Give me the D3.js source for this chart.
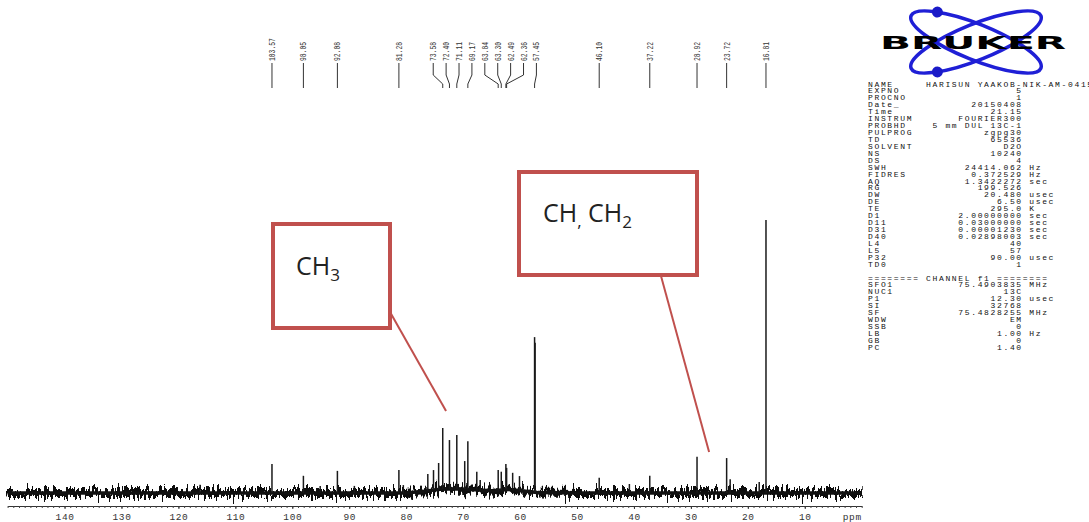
<!DOCTYPE html>
<html>
<head>
<meta charset="utf-8">
<script src="https://cdn.jsdelivr.net/npm/d3@7"></script>
<style>
  body { margin: 0; background: #fff; }
  text { font-family: "Liberation Mono", "DejaVu Sans Mono", monospace; }
</style>
</head>
<body>
<div id="nmr"></div>
<script>
let width  = 1089,
    height = 522;

// 13C spectrum, ppm axis runs right to left
let peakPpm    = [116.2, 103.57, 98.05, 95.1, 92.08, 89.1, 81.28, 80.5, 76.2, 75.2, 74.3,
                  73.58, 72.40, 71.11, 69.72, 69.17, 67.6, 67.0, 63.84, 63.30, 62.49,
                  62.36, 61.3, 60.1, 57.45, 57.36, 46.10, 40.8, 37.22, 28.92, 23.72,
                  23.1, 18.0, 16.81];
let peakHeight = [3.0, 10.6, 6.3, 2.6, 8.1, 2.6, 8.4, 2.9, 7.0, 8.4, 11.0,
                  23.8, 19.4, 21.2, 11.7, 19.0, 7.8, 4.8, 8.4, 7.8, 10.6,
                  9.2, 7.4, 6.2, 57.1, 55.0, 5.6, 3.3, 6.3, 13.3, 12.8,
                  5.0, 4.0, 100];

let labelPpm = [103.57, 98.05, 92.08, 81.28, 73.58, 72.40, 71.11, 69.17, 63.84,
                63.30, 62.49, 62.36, 57.45, 46.10, 37.22, 28.92, 23.72, 16.81];

let baselinePpm   = [150, 100, 80, 77, 74, 71, 68, 65, 62, 59, 57, 50, 0];
let baselineLevel = [0,   0,   0,  0.6, 1.4, 1.6, 1.2, 0.8, 1.3, 0.6, 0.2, 0, 0];

let ppmTicks = d3.range(10, 150, 10);

let paramNames  = ["NAME", "EXPNO", "PROCNO", "Date_", "Time", "INSTRUM", "PROBHD", "PULPROG",
                   "TD", "SOLVENT", "NS", "DS", "SWH", "FIDRES", "AQ", "RG", "DW", "DE", "TE",
                   "D1", "D11", "D31", "D40", "L4", "L5", "P32", "TD0"];
let paramValues = ["HARISUN YAAKOB-NIK-AM-0415", "5", "1", "20150408", "21.15", "FOURIER300",
                   "5 mm DUL 13C-1", "zgpg30", "65536", "D2O", "10240", "4", "24414.062",
                   "0.372529", "1.3422272", "199.526", "20.480", "6.50", "295.0",
                   "2.00000000", "0.03000000", "0.00001230", "0.02898003", "40", "57",
                   "90.00", "1"];
let paramUnits  = ["", "", "", "", "", "", "", "", "", "", "", "", "Hz", "Hz", "sec", "",
                   "usec", "usec", "K", "sec", "sec", "sec", "sec", "", "", "usec", ""];

let channelNames  = ["SFO1", "NUC1", "P1", "SI", "SF", "WDW", "SSB", "LB", "GB", "PC"];
let channelValues = ["75.4903835", "13C", "12.30", "32768", "75.4828255", "EM", "0", "1.00", "0", "1.40"];
let channelUnits  = ["MHz", "", "usec", "", "MHz", "", "", "Hz", "", ""];

let svg =
  d3.select("#nmr")
    .append("svg")
      .attr("width", width)
      .attr("height", height)
      .style("display", "block");

let x =
  d3.scaleLinear()
    .domain([150, 0])
    .range([7.6, 861.7]);

let y =
  d3.scaleLinear()
    .domain([0, 100])
    .range([493, 220]);

let baseAt =
  d3.scaleLinear()
    .domain(baselinePpm)
    .range(baselineLevel);

// rough look of the noise floor
let defs = svg.append("defs");
let filter = defs.append("filter")
    .attr("id", "noise")
    .attr("filterUnits", "userSpaceOnUse")
    .attr("x", 0).attr("y", 440).attr("width", 880).attr("height", 80);
filter.append("feTurbulence")
    .attr("type", "fractalNoise")
    .attr("baseFrequency", "0.45 0.06")
    .attr("numOctaves", 2)
    .attr("seed", 7)
    .attr("result", "t");
filter.append("feDisplacementMap")
    .attr("in", "SourceGraphic")
    .attr("in2", "t")
    .attr("scale", 22)
    .attr("xChannelSelector", "R")
    .attr("yChannelSelector", "G");

let baseLine =
  d3.line()
    .x(function(d) { return x(d); })
    .y(function(d) { return y(baseAt(d)); });

svg.append("path")
    .datum(baselinePpm)
    .attr("d", baseLine)
    .attr("fill", "none")
    .attr("stroke", "#111")
    .attr("stroke-width", 8)
    .attr("filter", "url(#noise)");

svg.append("path")
    .datum(baselinePpm)
    .attr("d", baseLine)
    .attr("fill", "none")
    .attr("stroke", "#111")
    .attr("stroke-width", 3.5);

let peaks = peakPpm.map(function(p, i) { return {ppm: p, h: peakHeight[i]}; });

svg.append("g")
  .selectAll("line")
    .data(peaks)
  .enter().append("line")
    .attr("x1", function(d) { return x(d.ppm); })
    .attr("x2", function(d) { return x(d.ppm); })
    .attr("y1", function(d) { return y(baseAt(d.ppm)); })
    .attr("y2", function(d) { return y(d.h); })
    .attr("stroke", "#1a1a1a")
    .attr("stroke-width", 1.5);

// ppm axis
svg.append("g")
    .attr("transform", translate(0, 506))
    .call(d3.axisBottom(x).tickValues(d3.range(0, 151, 1)).tickSize(2).tickSizeOuter(0).tickFormat(""))
    .call(function(g) {
      g.select(".domain").attr("stroke", "#333");
      g.selectAll(".tick line").attr("stroke", "#444");
    });

svg.append("g")
    .attr("transform", translate(0, 506))
    .call(d3.axisBottom(x).tickValues(ppmTicks).tickSize(3).tickPadding(4).tickSizeOuter(0))
    .call(function(g) {
      g.select(".domain").remove();
      g.selectAll(".tick line").attr("stroke", "#333");
      g.selectAll(".tick text")
        .attr("fill", "#333")
        .style("font-size", "9.5px")
        .style("letter-spacing", "0.6px");
    });

svg.append("text")
    .attr("x", x(0))
    .attr("y", 520)
    .attr("text-anchor", "end")
    .attr("fill", "#333")
    .style("font-size", "9.5px")
    .style("letter-spacing", "0.6px")
    .text("ppm");

// peak labels, spread apart where crowded
let gap = 12.9;
let targets = labelPpm.map(function(p) { return x(p); });
let groups = targets.map(function(t, i) { return {items: [i], center: t}; });
let merged = true;
while (merged) {
  merged = false;
  for (let k = 0; k < groups.length - 1; k++) {
    let a = groups[k], b = groups[k + 1];
    let aEnd   = a.center + (a.items.length - 1) / 2 * gap,
        bStart = b.center - (b.items.length - 1) / 2 * gap;
    if (bStart - aEnd < gap) {
      let items = a.items.concat(b.items);
      groups.splice(k, 2, {items: items, center: d3.mean(items, function(i) { return targets[i]; })});
      merged = true;
      break;
    }
  }
}
let labelX = [];
groups.forEach(function(g) {
  g.items.forEach(function(i, j) { labelX[i] = g.center + (j - (g.items.length - 1) / 2) * gap; });
});

let labels = svg.append("g")
  .selectAll("g")
    .data(labelPpm)
  .enter().append("g");

labels.append("text")
    .attr("transform", function(d, i) { return translate(labelX[i], 61) + " rotate(-90)"; })
    .attr("dy", "0.35em")
    .attr("fill", "#333")
    .attr("textLength", function(d) { return d.toFixed(2).length * 3.8; })
    .attr("lengthAdjust", "spacingAndGlyphs")
    .style("font-size", "8.5px")
    .text(function(d) { return d.toFixed(2); });

labels.append("path")
    .attr("fill", "none")
    .attr("stroke", "#333")
    .attr("stroke-width", 1)
    .attr("d", function(d, i) {
      let lx = labelX[i], px = x(d);
      return "M" + lx + ",63 L" + lx + ",75 L" + px + ",84 L" + px + ",88";
    });

// annotation boxes
let red = "#c0504d";

svg.append("line")
    .attr("x1", 390).attr("y1", 312).attr("x2", x(73)).attr("y2", y(30))
    .attr("stroke", red).attr("stroke-width", 2);
svg.append("line")
    .attr("x1", 661).attr("y1", 276).attr("x2", x(26.8)).attr("y2", y(15))
    .attr("stroke", red).attr("stroke-width", 2);

svg.append("rect")
    .attr("x", 273).attr("y", 224).attr("width", 117).attr("height", 104)
    .attr("fill", "#fff").attr("stroke", red).attr("stroke-width", 4);
svg.append("rect")
    .attr("x", 519).attr("y", 172).attr("width", 178).attr("height", 103)
    .attr("fill", "#fff").attr("stroke", red).attr("stroke-width", 4);

let ch3 = svg.append("text")
    .attr("x", 296).attr("y", 275)
    .attr("fill", "#222")
    .style("font-family", "'Open Sans', 'Liberation Sans', sans-serif")
    .style("font-size", "25px");
ch3.append("tspan").text("CH");
ch3.append("tspan").attr("dy", 6).style("font-size", "17px").text("3");

let ch2 = svg.append("text")
    .attr("x", 543).attr("y", 222)
    .attr("fill", "#222")
    .style("font-family", "'Open Sans', 'Liberation Sans', sans-serif")
    .style("font-size", "25px");
ch2.append("tspan").text("CH");
ch2.append("tspan").attr("dy", 5).style("font-size", "17px").text(",");
ch2.append("tspan").attr("dy", -5).text(" CH");
ch2.append("tspan").attr("dy", 6).style("font-size", "17px").text("2");

// Bruker logo
let logo = svg.append("g").attr("transform", translate(976, 42));
[22, -22].forEach(function(a) {
  let o = logo.append("g").attr("transform", "rotate(" + a + ")");
  o.append("ellipse")
      .attr("rx", 70).attr("ry", 18)
      .attr("fill", "none").attr("stroke", "#1f1fd6").attr("stroke-width", 3.5);
  o.append("circle")
      .attr("cx", -47).attr("cy", a > 0 ? -13.3 : 13.3).attr("r", 5.5)
      .attr("fill", "#1a1ac8");
});
svg.append("text")
    .attr("x", 880).attr("y", 49)
    .attr("textLength", 186)
    .attr("lengthAdjust", "spacingAndGlyphs")
    .attr("fill", "#000")
    .style("font-family", "'DejaVu Sans', sans-serif")
    .style("font-weight", "bold")
    .style("font-size", "17px")
    .text("BRUKER");

// acquisition / processing parameters
function paramLine(name, value, unit) {
  let s;
  if (name == "NAME") s = name.padEnd(9) + value;
  else s = name + value.padStart(24 - name.length);
  if (unit) s += " " + unit;
  return s;
}

let rows = paramNames.map(function(n, i) { return paramLine(n, paramValues[i], paramUnits[i]); });
rows.push("");
rows.push("======== CHANNEL f1 ========");
channelNames.forEach(function(n, i) { rows.push(paramLine(n, channelValues[i], channelUnits[i])); });

svg.append("g")
  .selectAll("text")
    .data(rows)
  .enter().append("text")
    .attr("x", 868)
    .attr("y", function(d, i) { return 86.5 + i * 6.93; })
    .attr("fill", "#111")
    .style("font-size", "8px")
    .style("letter-spacing", "1.65px")
    .style("white-space", "pre")
    .text(function(d) { return d; });

function translate(x, y=0) {
  return "translate({x}, {y})"
          .replace("{x}", x)
          .replace("{y}", y);
}
</script>
</body>
</html>
